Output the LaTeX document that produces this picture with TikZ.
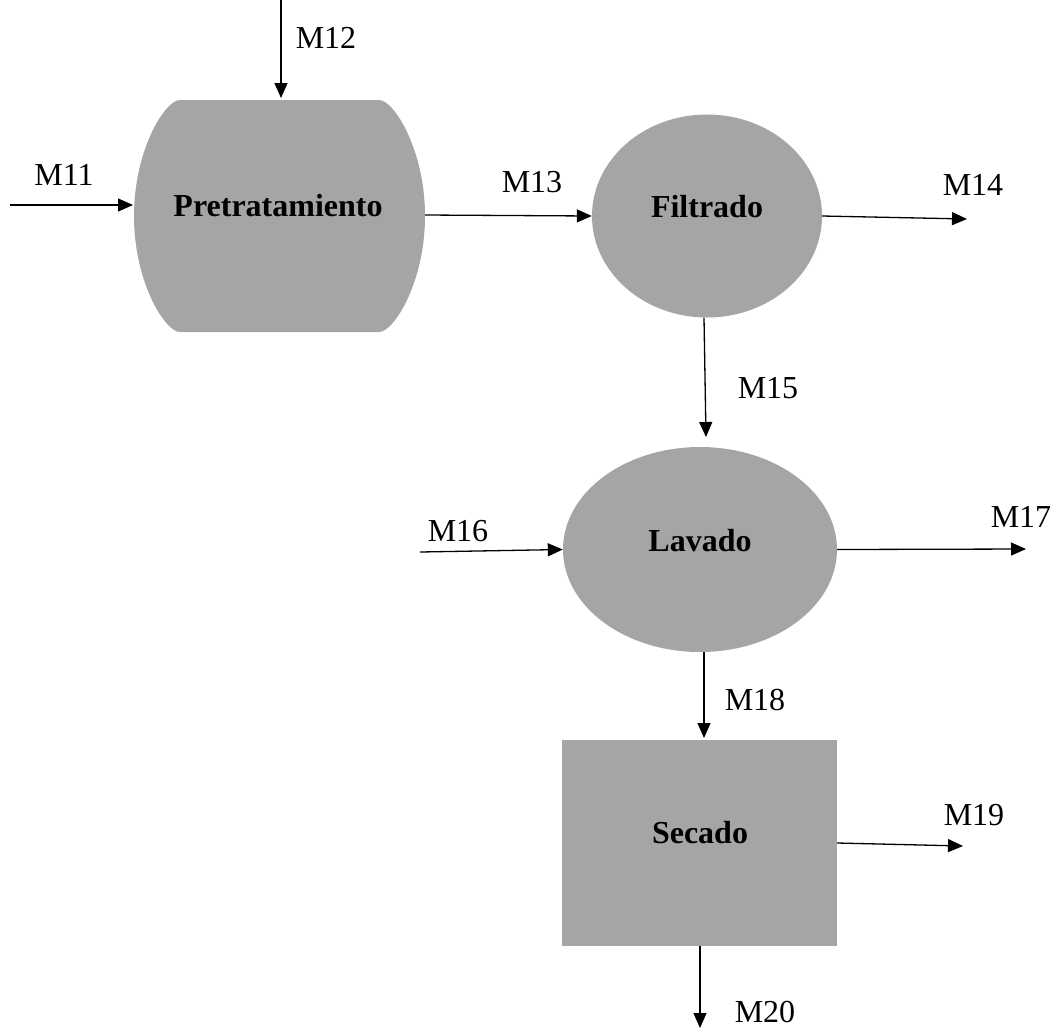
\documentclass[tikz,border=0pt]{standalone}
\usepackage{fontspec}
\setmainfont{Liberation Serif}
\usetikzlibrary{arrows.meta,shapes.geometric}
\definecolor{proc}{HTML}{A5A5A5}
\begin{document}
\begin{tikzpicture}[x=1pt,y=-1pt,
  flow/.style={line width=1.3pt,-{Triangle[length=15pt,width=13pt]}},
  lbl/.style={font=\fontsize{32}{38}\selectfont,inner sep=0pt},
  ptxt/.style={font=\fontsize{32}{38}\selectfont\bfseries,inner sep=0pt},
  procfill/.style={fill=proc,draw=none}]
\useasboundingbox (0,0) rectangle (1052,1029);
% Pretratamiento shape
\fill[proc] (180,100) -- (379,100)
  .. controls (394,100) and (425,150) .. (425,216)
  .. controls (425,282) and (394,332) .. (379,332) -- (180,332)
  .. controls (165,332) and (134,282) .. (134,216)
  .. controls (134,150) and (165,100) .. (180,100) -- cycle;
\node[ptxt] (pre) at (278,206) {Pretratamiento};
\coordinate (preN) at (281,98);
\coordinate (preW) at (133,205);
\coordinate (preE) at (425,215);
% Filtrado
\node[procfill,ellipse,minimum width=230pt,minimum height=203pt,inner sep=0pt] (fil) at (707,216) {};
\node[ptxt] at (707,207) {Filtrado};
% Lavado
\node[procfill,ellipse,minimum width=274pt,minimum height=205pt,inner sep=0pt] (lav) at (700,549.5) {};
\node[ptxt] at (700,541) {Lavado};
% Secado
\node[procfill,rectangle,minimum width=275pt,minimum height=206pt,inner sep=0pt] (sec) at (699.5,843) {};
\node[ptxt] at (700,833) {Secado};
% free ends
\coordinate (m12s) at (281,0);
\coordinate (m11s) at (10,205);
\coordinate (m14e) at (967,219);
\coordinate (m15e) at (706,437);
\coordinate (m16s) at (420,552);
\coordinate (m17e) at (1026,549);
\coordinate (m18e) at (704,738);
\coordinate (m19e) at (963,846);
\coordinate (m20e) at (700,1028);
% connectors
\draw[flow] (m12s) -- (preN);
\draw[flow] (m11s) -- (preW);
\draw[flow] (preE) -- (fil.west);
\draw[flow] (fil.east) -- (m14e);
\draw[flow] (fil.south -| 704,0) -- (m15e);
\draw[flow] (m16s) -- (lav.west);
\draw[flow] (lav.east) -- (m17e);
\draw[flow] (lav.south -| 704,0) -- (m18e);
\draw[flow] (sec.east) -- (m19e);
\draw[flow] (sec.south -| 700,0) -- (m20e);
% labels
\node[lbl] (l12) at (326,38) {M12};
\node[lbl] (l11) at (64,175) {M11};
\node[lbl] (l13) at (532,182) {M13};
\node[lbl] (l14) at (973,185) {M14};
\node[lbl] (l15) at (768,388) {M15};
\node[lbl] (l16) at (458,531) {M16};
\node[lbl] (l17) at (1021,517) {M17};
\node[lbl] (l18) at (755,700) {M18};
\node[lbl] (l19) at (974,815) {M19};
\node[lbl] (l20) at (765,1012) {M20};
\end{tikzpicture}
\end{document}
